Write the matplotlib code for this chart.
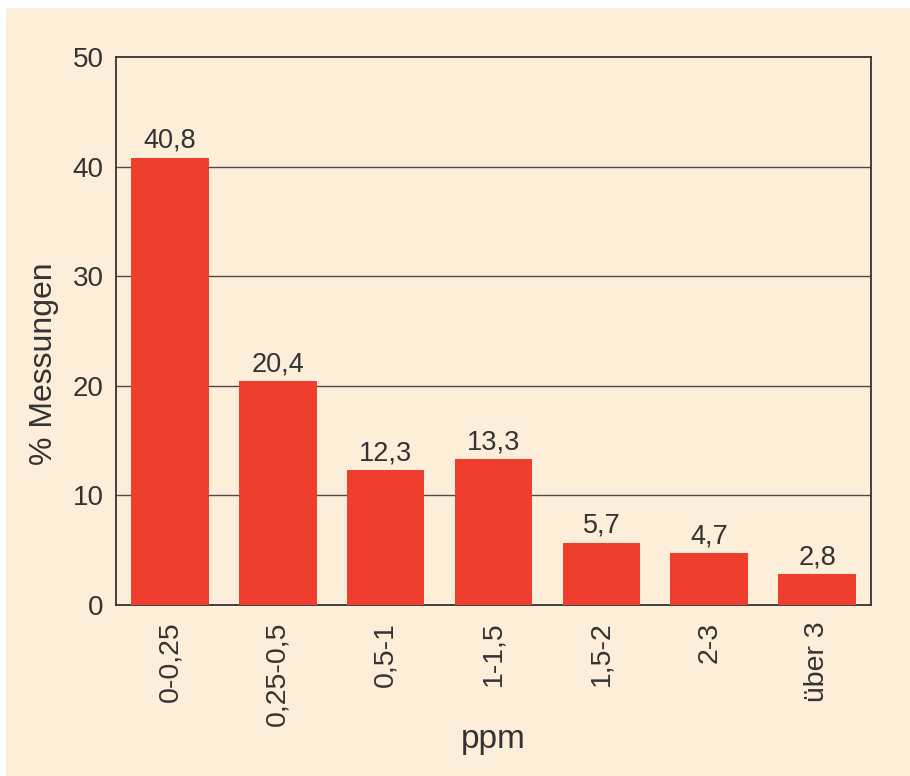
import matplotlib
matplotlib.use("Agg")
import matplotlib.pyplot as plt
from matplotlib.patches import Rectangle

# Data
categories = ["0-0,25", "0,25-0,5", "0,5-1", "1-1,5", "1,5-2", "2-3", "über 3"]
values = [40.8, 20.4, 12.3, 13.3, 5.7, 4.7, 2.8]
value_labels = ["40,8", "20,4", "12,3", "13,3", "5,7", "4,7", "2,8"]
y_ticks = [0, 10, 20, 30, 40, 50]

CREAM = "#FDEEDA"
RED = "#EF3E2E"
TEXT = "#333333"

plt.rcParams["font.family"] = ["Liberation Sans", "DejaVu Sans"]

W, H = 910, 776
fig = plt.figure(figsize=(W / 100, H / 100), dpi=100)
fig.patch.set_facecolor("white")

# cream panel behind everything (small white margin top/left)
fig.patches.append(Rectangle((6 / W, 0), 1 - 6 / W, (H - 8) / H,
                             transform=fig.transFigure, facecolor=CREAM,
                             edgecolor="none", zorder=-10))

ax = fig.add_axes([116 / W, 1 - 605 / H, (871 - 116) / W, (605 - 57) / H])
ax.set_facecolor(CREAM)

x = range(len(categories))
bars = ax.bar(x, values, width=0.72, color=RED, zorder=3)
ax.bar_label(bars, labels=value_labels, padding=3, fontsize=19.5, color=TEXT)

ax.set_xlim(-0.5, len(categories) - 0.5)
ax.set_ylim(0, 50)
ax.set_yticks(y_ticks)
ax.set_xticks(list(x))
ax.set_xticklabels(categories, rotation=90, fontsize=20.5, color=TEXT)
ax.tick_params(axis="y", labelsize=20, labelcolor=TEXT, length=0, pad=9)
ax.tick_params(axis="x", length=0, pad=12)

# gridlines only inside the plot (top one is the frame)
for yv in y_ticks[1:-1]:
    ax.axhline(yv, color="#4a4a4a", lw=1.0, zorder=1)

for s in ax.spines.values():
    s.set_color("#333333")
    s.set_linewidth(1.3)

ax.set_ylabel("% Messungen", fontsize=23, color=TEXT)
ax.yaxis.set_label_coords(-0.075, 0.44)
ax.set_xlabel("ppm", fontsize=24, color=TEXT)
ax.xaxis.set_label_coords(0.5, -0.218)

fig.savefig("out.png", dpi=100, facecolor=fig.get_facecolor())
